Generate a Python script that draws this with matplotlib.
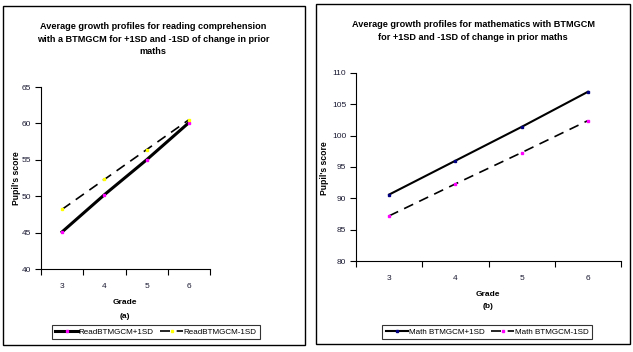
import matplotlib
matplotlib.use('Agg')
import matplotlib.pyplot as plt
from matplotlib.patches import Rectangle

plt.rcParams['font.family'] = ['Liberation Sans', 'DejaVu Sans']

grades = ['3', '4', '5', '6']
read_plus = [45.1, 50.2, 55.0, 60.1]
read_minus = [48.2, 52.3, 56.4, 60.5]
math_plus = [90.6, 96.0, 101.4, 107.0]
math_minus = [87.2, 92.3, 97.3, 102.4]

W, H = 633, 352
fig = plt.figure(figsize=(W / 100, H / 100), dpi=100)


def px(x0, y0, x1, y1):
    # pixel box (top-left origin) -> figure fraction rect
    return [x0 / W, 1 - y1 / H, (x1 - x0) / W, (y1 - y0) / H]


# panel frames
fig.add_artist(Rectangle((3 / W, 1 - 345 / H), 302 / W, 339 / H, transform=fig.transFigure,
                         fill=False, edgecolor='black', linewidth=1))
fig.add_artist(Rectangle((316 / W, 1 - 344 / H), 314 / W, 340 / H, transform=fig.transFigure,
                         fill=False, edgecolor='black', linewidth=1))

tick_col = '#1a1a33'


def style_axes(ax, ylim, yticks):
    x = list(range(len(grades)))
    ax.set_xlim(-0.5, len(grades) - 0.5)
    ax.set_ylim(*ylim)
    ax.set_yticks(yticks)
    ax.set_xticks([i - 0.5 for i in range(len(grades) + 1)], minor=False)
    ax.set_xticklabels([])
    ax.set_xticks(x, minor=True)
    ax.set_xticklabels(grades, minor=True)
    ax.tick_params(axis='x', which='minor', length=0, pad=10, labelsize=6, labelcolor=tick_col)
    ax.tick_params(axis='x', which='major', length=4, direction='out', width=0.8)
    ax.tick_params(axis='y', length=4, direction='out', width=0.8, labelsize=6, pad=3,
                   labelcolor=tick_col)
    for s in ['top', 'right']:
        ax.spines[s].set_visible(False)
    ax.spines['left'].set_linewidth(0.8)
    ax.spines['bottom'].set_linewidth(0.8)
    return x


def add_legend(ax, cx):
    leg = ax.legend(loc='center', bbox_to_anchor=(cx / W, 1 - 332 / H), bbox_transform=fig.transFigure,
                    ncol=2, fontsize=5.8, frameon=True, fancybox=False, handlelength=2.8,
                    columnspacing=0.8, handletextpad=0.1, borderpad=0.45, borderaxespad=0)
    leg.get_frame().set_edgecolor('black')
    leg.get_frame().set_linewidth(0.8)


# (a) reading
ax1 = fig.add_axes(px(41, 87, 210, 269))
x = style_axes(ax1, (40, 65), [40, 45, 50, 55, 60, 65])
ax1.plot(x, read_plus, color='black', linewidth=2.2, marker='s', markersize=2,
         markerfacecolor='#ff00ff', markeredgecolor='#ff00ff', label='ReadBTMGCM+1SD')
ax1.plot(x, read_minus, color='black', linewidth=1.2, dashes=(6, 4), marker='s', markersize=2,
         markerfacecolor='#ffff00', markeredgecolor='#ffff00', label='ReadBTMGCM-1SD')
ax1.set_ylabel("Pupil's score", fontsize=6.2, fontweight='bold')
ax1.yaxis.set_label_coords(21 / W, 1 - 178 / H, transform=fig.transFigure)
fig.text(153 / W, 1 - 39 / H,
         'Average growth profiles for reading comprehension\nwith a BTMGCM for +1SD and -1SD of change in prior\nmaths',
         ha='center', va='center', fontsize=6.6, fontweight='bold', linespacing=1.55)
fig.text(125 / W, 1 - 303 / H, 'Grade', ha='center', va='center', fontsize=6, fontweight='bold')
fig.text(125 / W, 1 - 316 / H, '(a)', ha='center', va='center', fontsize=6, fontweight='bold')
add_legend(ax1, 156)

# (b) mathematics
ax2 = fig.add_axes(px(356, 73, 621, 261))
x = style_axes(ax2, (80, 110), [80, 85, 90, 95, 100, 105, 110])
ax2.plot(x, math_plus, color='black', linewidth=1.5, marker='s', markersize=2,
         markerfacecolor='#000080', markeredgecolor='#000080', label='Math BTMGCM+1SD')
ax2.plot(x, math_minus, color='black', linewidth=1.2, dashes=(6, 4), marker='s', markersize=2,
         markerfacecolor='#ff00ff', markeredgecolor='#ff00ff', label='Math BTMGCM-1SD')
ax2.set_ylabel("Pupil's score", fontsize=6.2, fontweight='bold')
ax2.yaxis.set_label_coords(329 / W, 1 - 168 / H, transform=fig.transFigure)
fig.text(473 / W, 1 - 31 / H,
         'Average growth profiles for mathematics with BTMGCM\nfor +1SD and -1SD of change in prior maths',
         ha='center', va='center', fontsize=6.6, fontweight='bold', linespacing=1.6)
fig.text(488 / W, 1 - 295 / H, 'Grade', ha='center', va='center', fontsize=6, fontweight='bold')
fig.text(488 / W, 1 - 307 / H, '(b)', ha='center', va='center', fontsize=6, fontweight='bold')
add_legend(ax2, 487)

fig.savefig('out.png', dpi=100)
